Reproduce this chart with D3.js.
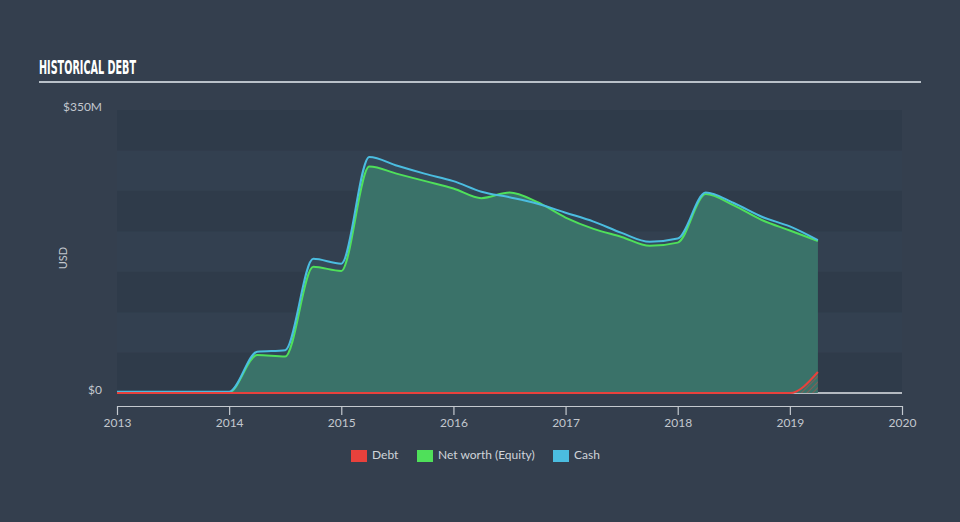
<!DOCTYPE html>
<html>
<head>
<meta charset="utf-8">
<script src="https://cdn.jsdelivr.net/npm/d3@7/dist/d3.min.js"></script>
<style>
  html, body { margin: 0; padding: 0; background: #343f4e; }
  svg { display: block; }
</style>
</head>
<body>
<svg id="chart" width="960" height="522"></svg>
<script>
// ---- Data (values in $M) ----
const dates = [2013.0, 2013.25, 2013.5, 2013.75, 2014.0, 2014.25, 2014.5, 2014.75,
               2015.0, 2015.25, 2015.5, 2015.75, 2016.0, 2016.25, 2016.5, 2016.75,
               2017.0, 2017.25, 2017.5, 2017.75, 2018.0, 2018.25, 2018.5, 2018.75,
               2019.0, 2019.25];
const debt   = [0, 0, 0, 0, 0, 0, 0, 0,
                0, 0, 0, 0, 0, 0, 0, 0,
                0, 0, 0, 0, 0, 0, 0, 0,
                0, 26];
const equity = [1, 1, 1, 1, 1, 47, 45, 156,
                151, 280, 271, 262, 253, 241, 248, 236,
                217, 203, 193, 182, 186, 246, 232, 214,
                201, 188];
const cash   = [1.5, 1.5, 1.5, 1.5, 1.5, 51, 53, 166,
                160, 292, 281, 271, 262, 249, 242, 234,
                223, 212, 198, 187, 191, 248, 235, 218,
                206, 189];
const yearTicks = [2013, 2014, 2015, 2016, 2017, 2018, 2019, 2020];
const yTickValues = [0, 350];
const yTickLabels = ["$0", "$350M"];
const bandSteps = [0, 50, 100, 150, 200, 250, 300];
const seriesNames = ["Debt", "Net worth (Equity)", "Cash"];
const seriesColors = ["#e8413c", "#4fe05a", "#4bbde0"];

// ---- Setup ----
const svg = d3.select("#chart");
const x = d3.scaleLinear().domain([2013, 2020]).range([117, 902]);
const y = d3.scaleLinear().domain([0, 350]).range([393, 110]);

const defs = svg.append("defs");
const pat = defs.append("pattern").attr("id", "hatch")
  .attr("patternUnits", "userSpaceOnUse").attr("width", 4).attr("height", 4)
  .attr("patternTransform", "rotate(45)");
pat.append("line").attr("x1", 0).attr("y1", 0).attr("x2", 0).attr("y2", 4)
  .attr("stroke", "#e8413c").attr("stroke-width", 1.2).attr("stroke-opacity", 0.7);

// Title
svg.append("text")
  .attr("x", 39).attr("y", 74)
  .attr("font-family", "'Liberation Sans Narrow', 'DejaVu Sans Condensed', sans-serif")
  .attr("font-weight", "bold")
  .attr("font-size", 19)
  .attr("fill", "#ffffff")
  .attr("textLength", 97)
  .attr("lengthAdjust", "spacingAndGlyphs")
  .text("HISTORICAL DEBT");
svg.append("line")
  .attr("x1", 39).attr("x2", 921).attr("y1", 82).attr("y2", 82)
  .attr("stroke", "#b9c1c9").attr("stroke-width", 2);

// Bands
svg.append("g").selectAll("rect").data(bandSteps).join("rect")
  .attr("x", x(2013)).attr("width", x(2020) - x(2013))
  .attr("y", d => y(d + 50)).attr("height", d => y(d) - y(d + 50))
  .attr("fill", (d, i) => ((bandSteps.length - 1 - i) % 2 === 0) ? "#2f3b4a" : "#334050");

// Y labels
const labelFont = "'Lato', 'Open Sans', sans-serif";
svg.append("g").selectAll("text").data(yTickValues).join("text")
  .attr("x", 102).attr("y", d => y(d) - 2)
  .attr("text-anchor", "end").attr("dominant-baseline", "middle")
  .attr("font-family", labelFont).attr("font-size", 12).attr("fill", "#c3c8ce")
  .text((d, i) => yTickLabels[i]);
svg.append("text")
  .attr("transform", "translate(67,258) rotate(-90)")
  .attr("text-anchor", "middle")
  .attr("font-family", labelFont).attr("font-size", 11).attr("fill", "#c3c8ce")
  .text("USD");

// Baseline
svg.append("line")
  .attr("x1", x(2013)).attr("x2", x(2020)).attr("y1", y(0)).attr("y2", y(0))
  .attr("stroke", "#b4b9c0").attr("stroke-width", 2);

const idx = d3.range(dates.length);
const curve = d3.curveMonotoneX;
const areaOf = arr => d3.area().curve(curve).x(i => x(dates[i])).y0(y(0)).y1(i => y(arr[i]));
const lineOf = arr => d3.line().curve(curve).x(i => x(dates[i])).y(i => y(arr[i]));

// Areas
svg.append("path").datum(idx).attr("d", areaOf(cash))
  .attr("fill", "#4bbde0").attr("fill-opacity", 0.08);
svg.append("path").datum(idx).attr("d", areaOf(equity))
  .attr("fill", "#3b7469").attr("fill-opacity", 0.97);
svg.append("path").datum(idx).attr("d", areaOf(debt))
  .attr("fill", "url(#hatch)");

// Lines
svg.append("path").datum(idx).attr("d", lineOf(equity))
  .attr("fill", "none").attr("stroke", seriesColors[1]).attr("stroke-width", 2);
svg.append("path").datum(idx).attr("d", lineOf(cash))
  .attr("fill", "none").attr("stroke", seriesColors[2]).attr("stroke-width", 2);
svg.append("path").datum(idx).attr("d", lineOf(debt))
  .attr("fill", "none").attr("stroke", seriesColors[0]).attr("stroke-width", 2);

// X axis
const xAxis = d3.axisBottom(x).tickValues(yearTicks).tickFormat(d3.format("d"))
  .tickSizeInner(9).tickSizeOuter(0).tickPadding(3);
const gx = svg.append("g").attr("transform", "translate(0,406)").call(xAxis);
gx.select(".domain").attr("stroke", "#c4c9cf").attr("stroke-width", 1.2);
gx.selectAll(".tick line").attr("stroke", "#c4c9cf").attr("stroke-width", 1.2);
gx.selectAll(".tick text").attr("font-family", labelFont).attr("font-size", 12)
  .attr("fill", "#c3c8ce");

// Legend
const legendX = [351, 417, 553];
const lg = svg.append("g").selectAll("g").data(seriesNames).join("g")
  .attr("transform", (d, i) => `translate(${legendX[i]},450)`);
lg.append("rect").attr("width", 16).attr("height", 12).attr("fill", (d, i) => seriesColors[i]);
lg.append("text").attr("x", 21).attr("y", 6).attr("dominant-baseline", "middle")
  .attr("font-family", labelFont).attr("font-size", 12).attr("fill", "#d0d4d9")
  .text(d => d);
</script>
</body>
</html>
